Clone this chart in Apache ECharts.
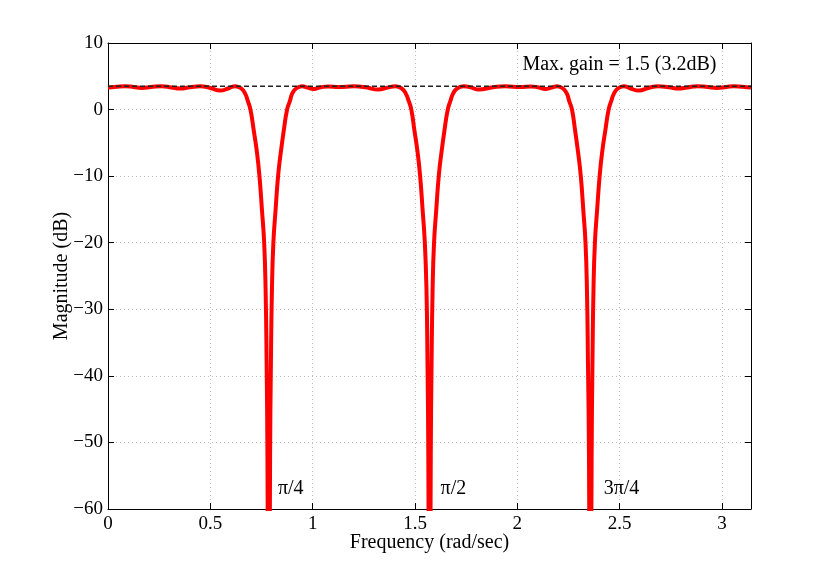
<!DOCTYPE html>
<html>
<head>
    <meta charset="utf-8"/>
    <title>Magnitude response</title>
    <script src="https://cdn.jsdelivr.net/npm/echarts@6/dist/echarts.min.js"></script>
    <style>
        html, body { margin: 0; padding: 0; background: #fff; }
        #chart { width: 830px; height: 573px; }
    </style>
</head>
<body>
<div id="chart"></div>
<script>
    // frequency (rad/sec) and magnitude (dB)
    var freq = [
        0, 0.04, 0.083, 0.125, 0.165, 0.21, 0.262, 0.31, 0.352, 0.40, 0.45, 0.50, 0.548, 0.59, 0.622,
        0.65, 0.67, 0.683, 0.696, 0.712, 0.728, 0.740, 0.752, 0.763, 0.770, 0.775, 0.779, 0.7854,
        0.792, 0.796, 0.801, 0.808, 0.819, 0.831, 0.844, 0.859, 0.875, 0.889, 0.90, 0.92, 0.948,
        0.975, 1.005, 1.04, 1.077, 1.126, 1.20, 1.26, 1.32, 1.365, 1.405,
        1.435, 1.455, 1.469, 1.482, 1.497, 1.513, 1.525, 1.537, 1.548, 1.556, 1.561, 1.565, 1.5708,
        1.577, 1.581, 1.586, 1.593, 1.604, 1.616, 1.629, 1.644, 1.660, 1.673, 1.686, 1.706, 1.737,
        1.777, 1.81, 1.882, 1.942, 2.016, 2.065, 2.10, 2.137, 2.167, 2.194,
        2.222, 2.242, 2.253, 2.267, 2.282, 2.297, 2.310, 2.322, 2.333, 2.340, 2.345, 2.350, 2.3562,
        2.363, 2.367, 2.372, 2.379, 2.390, 2.402, 2.414, 2.430, 2.446, 2.459, 2.472, 2.492, 2.52,
        2.55, 2.594, 2.64, 2.69, 2.74, 2.79, 2.83, 2.88, 2.93, 2.975, 3.02, 3.058, 3.10, 3.1416
    ];
    var magDb = [
        3.3, 3.42, 3.52, 3.4, 3.25, 3.38, 3.52, 3.33, 3.15, 3.35, 3.52, 3.25, 2.85, 3.2, 3.52,
        3.2, 2.4, 1.3, 0, -3.1, -6.5, -10, -15, -20, -27, -38, -52, -100,
        -52, -38, -27, -20, -15, -10, -6.5, -3.1, 0, 1.3, 2.4, 3.2, 3.52,
        3.3, 3.1, 3.35, 3.48, 3.38, 3.5, 3.35, 3.0, 3.3, 3.52,
        3.2, 2.4, 1.3, 0, -3.1, -6.5, -10, -15, -20, -27, -38, -52, -100,
        -52, -38, -27, -20, -15, -10, -6.5, -3.1, 0, 1.3, 2.4, 3.2, 3.52,
        3.3, 3.0, 3.35, 3.5, 3.38, 3.48, 3.35, 3.1, 3.3, 3.52,
        3.2, 2.4, 1.3, 0, -3.1, -6.5, -10, -15, -20, -27, -38, -52, -100,
        -52, -38, -27, -20, -15, -10, -6.5, -3.1, 0, 1.3, 2.4, 3.2, 3.52,
        3.2, 2.85, 3.25, 3.52, 3.35, 3.15, 3.33, 3.52, 3.38, 3.25, 3.4, 3.52, 3.42, 3.3
    ];
    var maxGainDb = 3.52;

    // text annotations: [x, y, text]
    var notes = [
        [0.83, -57, 'π/4'],
        [1.625, -57, 'π/2'],
        [2.422, -57, '3π/4'],
        [2.025, 6.8, 'Max. gain = 1.5 (3.2dB)']
    ];

    var xMin = 0, xMax = Math.PI, xStep = 0.5;
    var yMin = -60, yMax = 10, yStep = 10;

    var curve = freq.map(function (f, i) { return [f, magDb[i]]; });
    var fontName = 'Liberation Serif';

    function fmtNum(v) {
        return String(v).replace('-', '\u2212');
    }

    // top / right edges of the box
    var frameAxis = function (pos, isX) {
        return {
            type: 'value',
            position: pos,
            min: isX ? xMin : yMin,
            max: isX ? xMax : yMax,
            interval: isX ? xStep : yStep,
            axisLine: { show: true, onZero: false, lineStyle: { color: '#000', width: 1 } },
            axisTick: { show: true, inside: true, length: 6, lineStyle: { color: '#000' } },
            axisLabel: { show: false },
            splitLine: { show: false }
        };
    };

    var chart = echarts.init(document.getElementById('chart'), null, { renderer: 'canvas' });
    var option = {
        backgroundColor: '#fff',
        animation: false,
        grid: { left: 108, right: 79, top: 43, bottom: 64 },
        xAxis: [{
            type: 'value',
            position: 'bottom',
            min: xMin,
            max: xMax,
            interval: xStep,
            name: 'Frequency (rad/sec)',
            nameLocation: 'middle',
            nameGap: 24,
            nameMoveOverlap: false,
            nameTextStyle: { fontFamily: fontName, fontSize: 20, color: '#000' },
            axisLine: { show: true, onZero: false, lineStyle: { color: '#000', width: 1 } },
            axisTick: { show: true, inside: true, length: 6, lineStyle: { color: '#000' } },
            axisLabel: {
                fontFamily: fontName, fontSize: 19, color: '#000', margin: 6,
                showMaxLabel: false,
                formatter: fmtNum
            },
            splitLine: { show: true, lineStyle: { color: '#bcbcbc', type: [1, 3], width: 1 } }
        }, frameAxis('top', true)],
        yAxis: [{
            type: 'value',
            position: 'left',
            min: yMin,
            max: yMax,
            interval: yStep,
            name: 'Magnitude (dB)',
            nameLocation: 'middle',
            nameGap: 36,
            nameMoveOverlap: false,
            nameTextStyle: { fontFamily: fontName, fontSize: 20, color: '#000' },
            axisLine: { show: true, onZero: false, lineStyle: { color: '#000', width: 1 } },
            axisTick: { show: true, inside: true, length: 6, lineStyle: { color: '#000' } },
            axisLabel: {
                fontFamily: fontName, fontSize: 19, color: '#000', margin: 5,
                formatter: fmtNum
            },
            splitLine: { show: true, lineStyle: { color: '#bcbcbc', type: [1, 3], width: 1 } }
        }, frameAxis('right', false)],
        series: [{
            type: 'line',
            data: curve,
            showSymbol: false,
            smooth: 0.5,
            clip: true,
            lineStyle: { color: '#ff0000', width: 4 },
            z: 2
        }, {
            type: 'line',
            data: [[xMin, maxGainDb], [xMax, maxGainDb]],
            showSymbol: false,
            lineStyle: { color: '#222', width: 1.5, type: [5, 3] },
            z: 3
        }, {
            type: 'scatter',
            data: notes.map(function (n) { return { value: [n[0], n[1]], name: n[2] }; }),
            symbolSize: 0,
            itemStyle: { opacity: 1 },
            label: {
                show: true,
                position: [0, 0],
                align: 'left',
                verticalAlign: 'middle',
                formatter: '{b}',
                fontFamily: fontName,
                fontSize: 20,
                color: '#000',
                opacity: 1
            },
            z: 4
        }]
    };
    chart.setOption(option);
</script>
</body>
</html>
